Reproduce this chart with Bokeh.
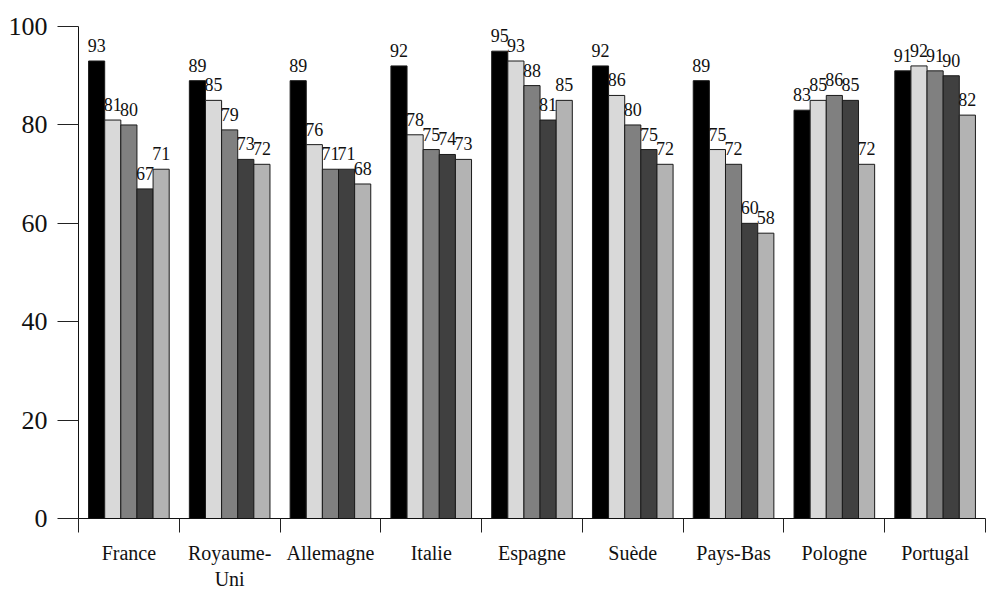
from bokeh.plotting import figure
from bokeh.models import ColumnDataSource, FixedTicker, LabelSet, Range1d
from bokeh.embed import file_html
from bokeh.resources import INLINE

countries = ["France", "Royaume-Uni", "Allemagne", "Italie", "Espagne",
             "Suède", "Pays-Bas", "Pologne", "Portugal"]
tick_labels = ["France", "Royaume-\nUni", "Allemagne", "Italie", "Espagne",
               "Suède", "Pays-Bas", "Pologne", "Portugal"]
series_1 = [93, 89, 89, 92, 95, 92, 89, 83, 91]
series_2 = [81, 85, 76, 78, 93, 86, 75, 85, 92]
series_3 = [80, 79, 71, 75, 88, 80, 72, 86, 91]
series_4 = [67, 73, 71, 74, 81, 75, 60, 85, 90]
series_5 = [71, 72, 68, 73, 85, 72, 58, 72, 82]
y_ticks = [0, 20, 40, 60, 80, 100]

all_series = [series_1, series_2, series_3, series_4, series_5]
colors = ["#000000", "#d9d9d9", "#808080", "#404040", "#b3b3b3"]
offsets = [-0.32, -0.16, 0.0, 0.16, 0.32]
FONT = "'Liberation Serif', 'DejaVu Serif', serif"

p = figure(width=987, height=594, output_backend="svg", toolbar_location=None,
           x_range=Range1d(0, len(countries)), y_range=Range1d(0, 105.3),
           min_border_left=78, min_border_right=2, min_border_top=0,
           min_border_bottom=76)
p.grid.visible = False
p.outline_line_color = None
p.background_fill_color = "white"
p.border_fill_color = "white"

for vals, col, off in zip(all_series, colors, offsets):
    xs = [i + 0.5 + off for i in range(len(countries))]
    src = ColumnDataSource(dict(x=xs, top=vals, label=[str(v) for v in vals]))
    p.vbar(x="x", top="top", bottom=0, width=0.16, source=src,
           fill_color=col, line_color="#1a1a1a", line_width=1)
    labels = LabelSet(x="x", y="top", text="label", source=src,
                      text_align="center", text_baseline="bottom", y_offset=9,
                      text_font=FONT, text_font_size="18px", text_color="#111111")
    p.add_layout(labels)

# x axis: labels at centres, boundary ticks as minor ticks
centres = [i + 0.5 for i in range(len(countries))]
bounds_ticks = list(range(len(countries) + 1))
p.xaxis.ticker = FixedTicker(ticks=centres, minor_ticks=bounds_ticks)
p.xaxis.major_label_overrides = {c: t for c, t in zip(centres, tick_labels)}
p.xaxis.major_tick_line_color = None
p.xaxis.minor_tick_line_color = "#222222"
p.xaxis.minor_tick_out = 14
p.xaxis.minor_tick_in = 0
p.xaxis.axis_line_color = "#111111"
p.xaxis.major_label_text_font = FONT
p.xaxis.major_label_text_font_size = "20px"
p.xaxis.major_label_text_color = "#111111"
p.xaxis.major_label_standoff = 9

p.yaxis.ticker = FixedTicker(ticks=y_ticks, minor_ticks=[])
p.yaxis.bounds = (0, 100)
p.yaxis.major_tick_out = 21
p.yaxis.major_tick_in = 0
p.yaxis.major_tick_line_color = "#222222"
p.yaxis.axis_line_color = "#111111"
p.yaxis.major_label_text_font = FONT
p.yaxis.major_label_text_font_size = "26px"
p.yaxis.major_label_text_color = "#111111"
p.yaxis.major_label_standoff = 10

open("out.html", "w").write(file_html(p, INLINE))
